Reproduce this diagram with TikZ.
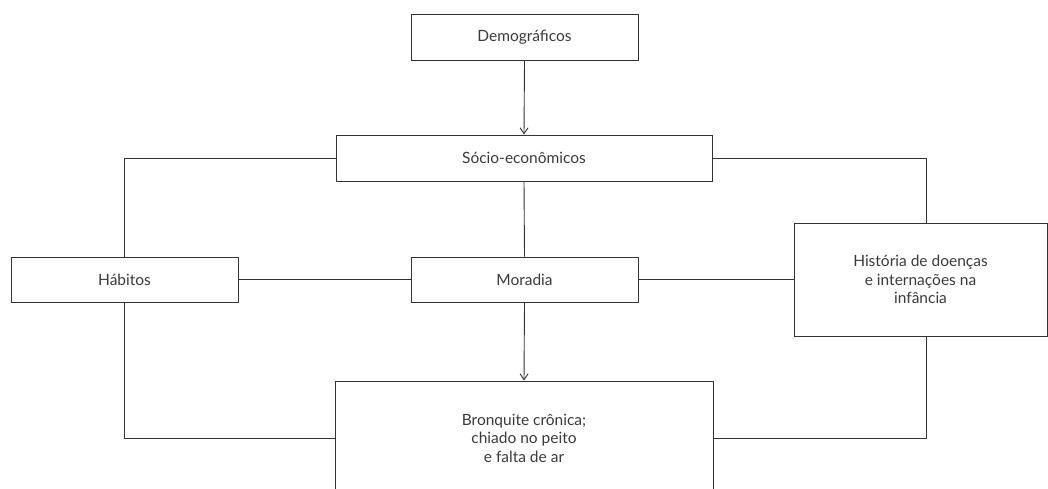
\documentclass[tikz,border=0pt]{standalone}
\usepackage{fontspec}
\setmainfont{Lato}
\usetikzlibrary{arrows.meta}
\definecolor{ln}{HTML}{333333}
\definecolor{tx}{HTML}{3A3A3A}
\begin{document}
\begin{tikzpicture}[x=1pt,y=-1pt,
  box/.style={draw=ln,line width=0.9pt,fill=white,inner sep=0pt,align=center,text=tx,font=\fontsize{15.5}{18.5}\selectfont},
  conn/.style={draw=ln,line width=0.9pt},
  arr/.style={conn,-{Straight Barb[length=6pt,width=8pt]}}]
\useasboundingbox (0,0) rectangle (1048,488);
\clip (0,0) rectangle (1048,488);
\node[box,minimum width=227,minimum height=46] (dem) at (524.5,37) {Demográficos};
\node[box,minimum width=376,minimum height=46] (soc) at (524,158) {Sócio-econômicos};
\node[box,minimum width=227,minimum height=45] (hab) at (124.5,279.5) {Hábitos};
\node[box,minimum width=227,minimum height=45] (mor) at (524.5,279.5) {Moradia};
\node[box,minimum width=253,minimum height=113] (his) at (920.5,279.5) {História de doenças\\e internações na\\infância};
\node[box,minimum width=378,minimum height=114] (bro) at (524,438) {Bronquite crônica;\\chiado no peito\\e falta de ar};
\coordinate (hx) at (926,279.5);
\draw[arr] (dem.south) -- (soc.north);
\draw[conn] (soc.south) -- (mor.north);
\draw[arr] (mor.south) -- (bro.north);
\draw[conn] (soc.west) -| (hab.north);
\draw[conn] (hab.south) |- (bro.west);
\draw[conn] (soc.east) -| (hx |- his.north);
\draw[conn] (hx |- his.south) |- (bro.east);
\draw[conn] (hab.east) -- (mor.west);
\draw[conn] (mor.east) -- (his.west);
\end{tikzpicture}
\end{document}
